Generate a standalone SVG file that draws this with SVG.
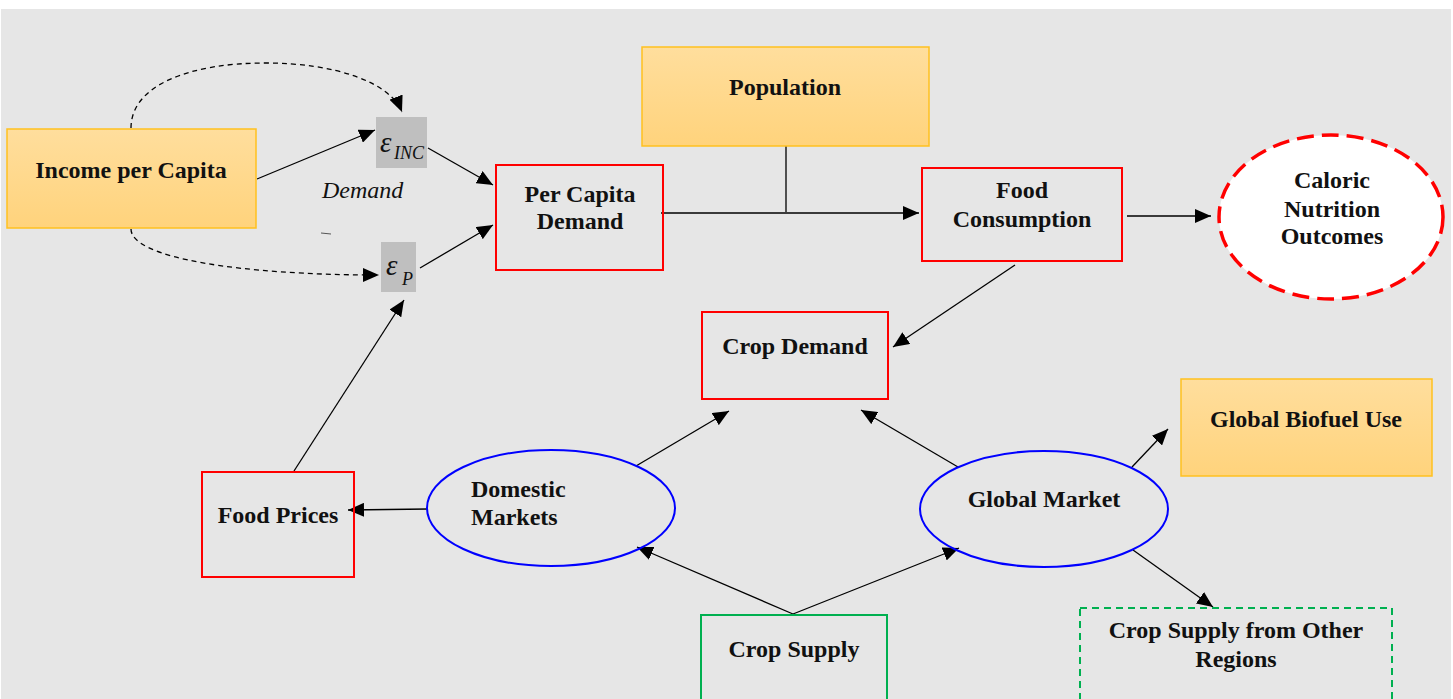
<svg xmlns="http://www.w3.org/2000/svg" width="1453" height="699" viewBox="0 0 1453 699">
<defs>
<linearGradient id="og" x1="0" y1="0" x2="0" y2="1">
<stop offset="0" stop-color="#FFDE9D"/>
<stop offset="1" stop-color="#FFD37C"/>
</linearGradient>
<marker id="ah" viewBox="0 0 16 14" refX="16" refY="7" markerWidth="16" markerHeight="14" markerUnits="userSpaceOnUse" orient="auto">
<path d="M0,0 L16,7 L0,14 Z" fill="#000"/>
</marker>
<style>
.t{font-family:"Liberation Serif","Times New Roman",serif;font-weight:bold;font-size:24px;fill:#111;text-anchor:middle}
.ts{text-anchor:start}
.ti{font-family:"Liberation Serif","Times New Roman",serif;font-style:italic;fill:#111}
.org{fill:url(#og);stroke:#FFC11F;stroke-width:1.5}
.red{fill:none;stroke:#FF0000;stroke-width:2}
.blu{fill:none;stroke:#0000FF;stroke-width:2}
.grn{fill:none;stroke:#00B050;stroke-width:2}
.gry{fill:#BFBFBF}
.c{fill:none;stroke:#000;stroke-width:1.3;marker-end:url(#ah)}
.cn{fill:none;stroke:#000;stroke-width:1.3}
.d{fill:none;stroke:#000;stroke-width:1.3;stroke-dasharray:5,4;marker-end:url(#ah)}
</style>
</defs>
<rect x="0" y="0" width="1453" height="699" fill="#FFFFFF"/>
<rect x="1" y="9" width="1450" height="690" fill="#E6E6E6"/>

<g id="connectors">
<path class="d" d="M131,128 C131,85 190,63 265,63 C335,63 390,82 402,112"/>
<path class="d" d="M131,229 C131,258 240,275 379,275"/>
<path class="c" d="M257,179 L375,130"/>
<path class="c" d="M428,148 L493,185"/>
<path class="c" d="M420,268 L493,225"/>
<path class="c" d="M294,471 L404,300"/>
<path class="cn" d="M786,146 L786,212"/>
<path class="c" d="M661,213 L919,213"/>
<path class="c" d="M1127,216 L1211,216"/>
<path class="c" d="M1015,265 L893,347"/>
<path class="c" d="M428,509 L348,510"/>
<path class="c" d="M636,466 L729,411"/>
<path class="c" d="M958,467 L861,410"/>
<path class="c" d="M1132,467 L1168,429"/>
<path class="c" d="M1133,550 L1213,607"/>
<path class="c" d="M793,614 L637,547"/>
<path class="c" d="M793,614 L959,548"/>
</g>

<g id="income">
<rect class="org" x="7" y="129" width="249" height="99"/>
<text class="t" x="131" y="178">Income per Capita</text>
</g>

<g id="eps-inc">
<rect class="gry" x="376" y="117" width="51" height="51"/>
<text class="ti" x="380" y="152" font-size="29">ε</text>
<text class="ti" x="394" y="159" font-size="18">INC</text>
</g>

<g id="demand-label">
<text class="ti" x="322" y="198" font-size="24">Demand</text>
<path d="M321,233 L331,234" stroke="#555" stroke-width="1" fill="none"/>
</g>

<g id="eps-p">
<rect class="gry" x="381" y="242" width="35" height="50"/>
<text class="ti" x="386" y="275" font-size="29">ε</text>
<text class="ti" x="402" y="285" font-size="18">P</text>
</g>

<g id="per-capita-demand">
<rect class="red" x="496" y="165" width="167" height="105"/>
<text class="t" x="580" y="202">Per Capita</text>
<text class="t" x="580" y="229">Demand</text>
</g>

<g id="population">
<rect class="org" x="642" y="47" width="287" height="99"/>
<text class="t" x="785" y="95">Population</text>
</g>

<g id="food-consumption">
<rect class="red" x="922" y="168" width="200" height="93"/>
<text class="t" x="1022" y="198">Food</text>
<text class="t" x="1022" y="227">Consumption</text>
</g>

<g id="caloric">
<ellipse cx="1331" cy="217" rx="112" ry="82" fill="#FFFFFF" stroke="#FF0000" stroke-width="3.5" stroke-dasharray="17,8"/>
<text class="t" x="1332" y="188">Caloric</text>
<text class="t" x="1332" y="217">Nutrition</text>
<text class="t" x="1332" y="244">Outcomes</text>
</g>

<g id="crop-demand">
<rect class="red" x="702" y="312" width="186" height="87"/>
<text class="t" x="795" y="354">Crop Demand</text>
</g>

<g id="food-prices">
<rect class="red" x="202" y="472" width="152" height="105"/>
<text class="t" x="278" y="523">Food Prices</text>
</g>

<g id="domestic-markets">
<ellipse class="blu" cx="551" cy="508" rx="124" ry="58"/>
<text class="t ts" x="471" y="497">Domestic</text>
<text class="t ts" x="471" y="525">Markets</text>
</g>

<g id="global-market">
<ellipse class="blu" cx="1044" cy="509" rx="124" ry="58"/>
<text class="t" x="1044" y="507">Global Market</text>
</g>

<g id="global-biofuel">
<rect class="org" x="1181" y="379" width="251" height="97"/>
<text class="t" x="1306" y="427">Global Biofuel Use</text>
</g>

<g id="crop-supply-other">
<rect x="1080" y="608" width="312" height="100" fill="none" stroke="#00B050" stroke-width="2" stroke-dasharray="7,5"/>
<text class="t" x="1236" y="638">Crop Supply from Other</text>
<text class="t" x="1236" y="667">Regions</text>
</g>

<g id="crop-supply">
<rect class="grn" x="701" y="615" width="186" height="100"/>
<text class="t" x="794" y="657">Crop Supply</text>
</g>
</svg>
